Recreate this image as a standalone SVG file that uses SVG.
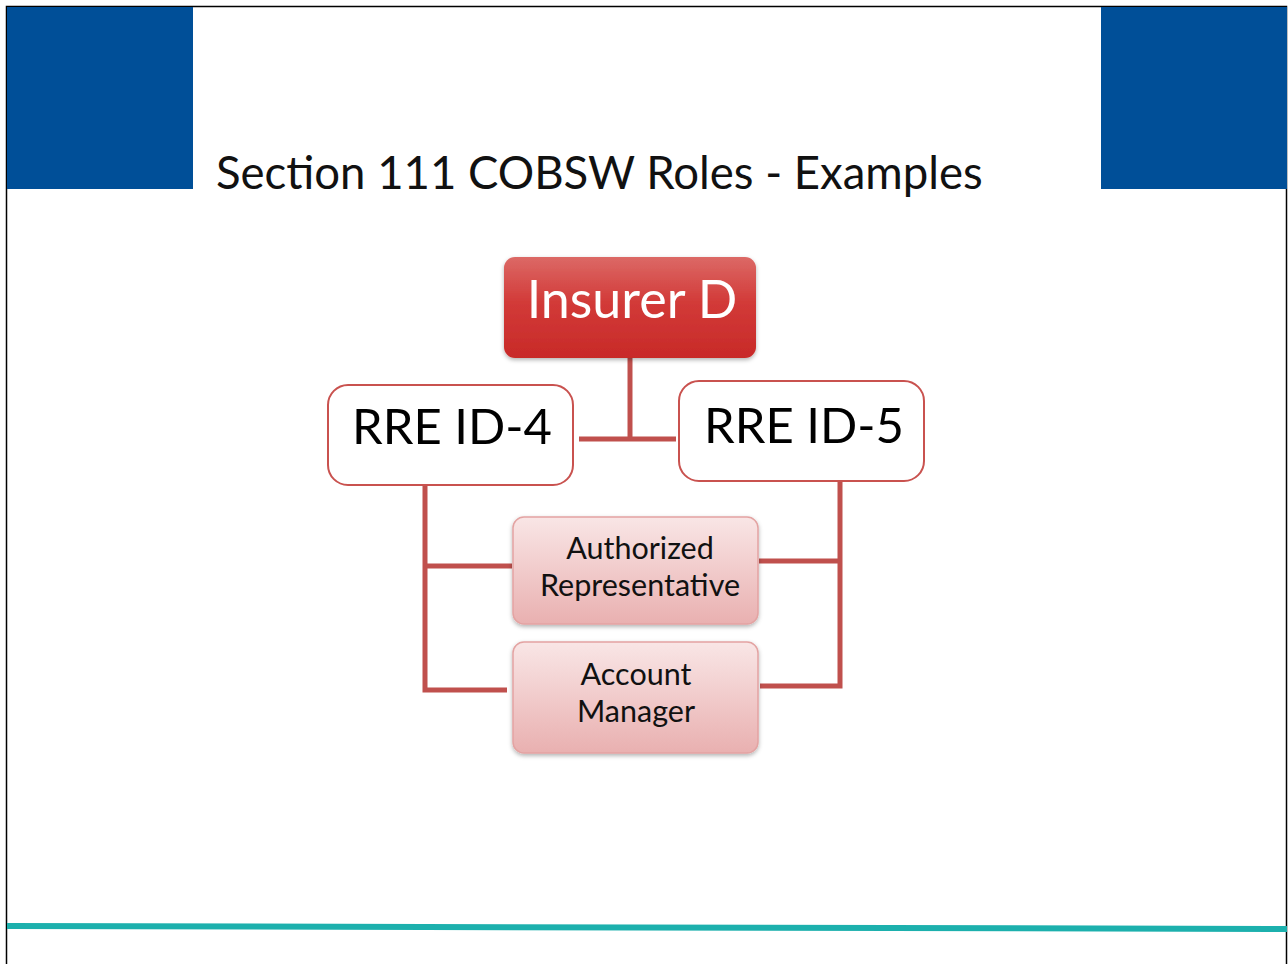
<svg xmlns="http://www.w3.org/2000/svg" width="1288" height="964" viewBox="0 0 1288 964">
  <style>
    .band { fill: #004f98; }
    .title { font-family: Lato, "Open Sans", sans-serif; font-size: 45.5px; fill: #111; }
    .rre { fill: #fff; stroke: #c9524f; stroke-width: 2; }
    .rre-text { font-family: Lato, "Open Sans", sans-serif; font-size: 49px; fill: #000; text-anchor: middle; }
    .role { fill: url(#pinkGrad); stroke: #e3a3a2; stroke-width: 1.5; }
    .role-text { font-family: Lato, "Open Sans", sans-serif; font-size: 30.5px; fill: #111; text-anchor: middle; }
    .head-text { font-family: Lato, "Open Sans", sans-serif; font-size: 52px; fill: #fff; text-anchor: middle; }
    .link { fill: none; stroke: #c0504d; stroke-width: 5; stroke-linejoin: miter; }
  </style>
  <defs>
    <linearGradient id="redGrad" x1="0" y1="0" x2="0" y2="1">
      <stop offset="0" stop-color="#dc6966"/>
      <stop offset="0.45" stop-color="#d23a38"/>
      <stop offset="1" stop-color="#c82a28"/>
    </linearGradient>
    <linearGradient id="pinkGrad" x1="0" y1="0" x2="0" y2="1">
      <stop offset="0" stop-color="#f9e6e6"/>
      <stop offset="1" stop-color="#e9b0b0"/>
    </linearGradient>
    <filter id="shadow" x="-10%" y="-10%" width="120%" height="130%">
      <feDropShadow dx="0" dy="2" stdDeviation="2" flood-color="#000" flood-opacity="0.3"/>
    </filter>
  </defs>

  <!-- page frame -->
  <rect x="0" y="0" width="1288" height="964" fill="#fff"/>
  <rect x="6.5" y="6.5" width="1280" height="960" fill="none" stroke="#000" stroke-width="1.5"/>

  <!-- header bands -->
  <rect class="band" x="7" y="7" width="186" height="182"/>
  <rect class="band" x="1101" y="7" width="186" height="182"/>
  <text class="title" x="216" y="189">Section 111 COBSW Roles - Examples</text>

  <!-- footer rule -->
  <polygon points="7,923 1287,926 1287,932 7,929" fill="#1cb0ad"/>

  <!-- connectors -->
  <g id="connectors">
    <path class="link" d="M630,358 V440"/>
    <path class="link" d="M579,439 H676"/>
    <path class="link" d="M425,485 V690 H507"/>
    <path class="link" d="M425,566 H512"/>
    <path class="link" d="M840,481 V686 H760"/>
    <path class="link" d="M759,561 H840"/>
  </g>

  <!-- nodes -->
  <g id="insurer-d">
    <rect x="504" y="257" width="252" height="101" rx="11" fill="url(#redGrad)" filter="url(#shadow)"/>
    <text class="head-text" x="632" y="318">Insurer D</text>
  </g>

  <g id="rre-id-4">
    <rect class="rre" x="328" y="385" width="245" height="100" rx="20"/>
    <text class="rre-text" x="452" y="444">RRE ID-4</text>
  </g>

  <g id="rre-id-5">
    <rect class="rre" x="679" y="381" width="245" height="100" rx="20"/>
    <text class="rre-text" x="804" y="443">RRE ID-5</text>
  </g>

  <g id="authorized-representative">
    <rect class="role" x="513" y="517" width="245" height="107" rx="11" filter="url(#shadow)"/>
    <text class="role-text" x="640" y="559">Authorized</text>
    <text class="role-text" x="640" y="596">Representative</text>
  </g>

  <g id="account-manager">
    <rect class="role" x="513" y="642" width="245" height="111" rx="11" filter="url(#shadow)"/>
    <text class="role-text" x="636" y="685">Account</text>
    <text class="role-text" x="636" y="722">Manager</text>
  </g>
</svg>
